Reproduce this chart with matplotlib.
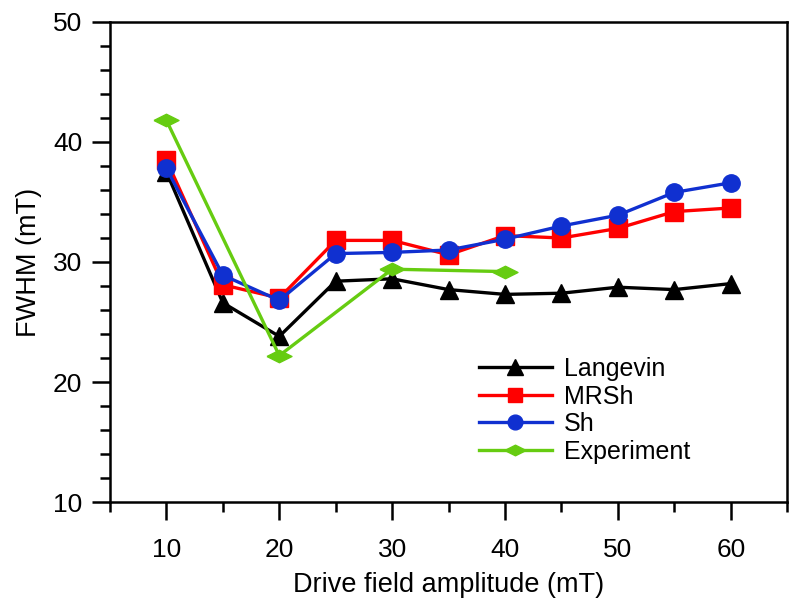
import numpy as np
import matplotlib
matplotlib.use("Agg")
from matplotlib import pyplot as plt
from matplotlib.ticker import MultipleLocator

plt.rcParams['font.family'] = ['Liberation Sans', 'DejaVu Sans']

# data
field = [10, 15, 20, 25, 30, 35, 40, 45, 50, 55, 60]
langevin = [37.5, 26.6, 23.8, 28.4, 28.6, 27.7, 27.3, 27.4, 27.9, 27.7, 28.2]
mrsh = [38.5, 28.1, 27.0, 31.8, 31.8, 30.6, 32.2, 32.0, 32.8, 34.2, 34.5]
sh = [37.8, 28.9, 26.8, 30.7, 30.8, 31.0, 31.9, 33.0, 33.9, 35.8, 36.6]
exp_field = [10, 20, 30, 40]
experiment = [41.8, 22.2, 29.4, 29.2]

# flat wide diamond marker
diamond = [(-1, 0), (0, 0.5), (1, 0), (0, -0.5), (-1, 0)]

fig = plt.figure(figsize=(8, 6.1), dpi=100)
ax = fig.add_axes([0.1375, 0.177, 0.8465, 0.787])

ax.plot(field, langevin, color='black', lw=2.4, marker='^', ms=13, label='Langevin')
ax.plot(field, mrsh, color='#ff0000', lw=2.4, marker='s', ms=12.5, label='MRSh')
ax.plot(field, sh, color='#1030d0', lw=2.4, marker='o', ms=12.5, label='Sh')
ax.plot(exp_field, experiment, color='#66cc11', lw=2.4, marker=diamond, ms=18, label='Experiment')

ax.set_xlim(5, 65)
ax.set_ylim(10, 50)
ax.xaxis.set_major_locator(MultipleLocator(10))
ax.xaxis.set_minor_locator(MultipleLocator(5))
ax.yaxis.set_major_locator(MultipleLocator(10))
ax.yaxis.set_minor_locator(MultipleLocator(2))
ax.set_xticks([10, 20, 30, 40, 50, 60])
ax.tick_params(which='both', direction='out', width=1.8, labelsize=19, pad=7)
ax.tick_params(which='major', length=13)
ax.tick_params(which='minor', length=7)
ax.tick_params(axis='x', pad=13)
for s in ax.spines.values():
    s.set_linewidth(1.8)

ax.set_xlabel('Drive field amplitude (mT)', fontsize=19.5, labelpad=7)
ax.set_ylabel('FWHM (mT)', fontsize=19.5, labelpad=8)

ax.legend(loc='lower left', bbox_to_anchor=(0.545, 0.08), frameon=False, fontsize=18,
          handlelength=2.9, handletextpad=0.5, labelspacing=0.14, markerscale=0.85,
          borderaxespad=0, borderpad=0)

fig.savefig('out.png', dpi=100)
